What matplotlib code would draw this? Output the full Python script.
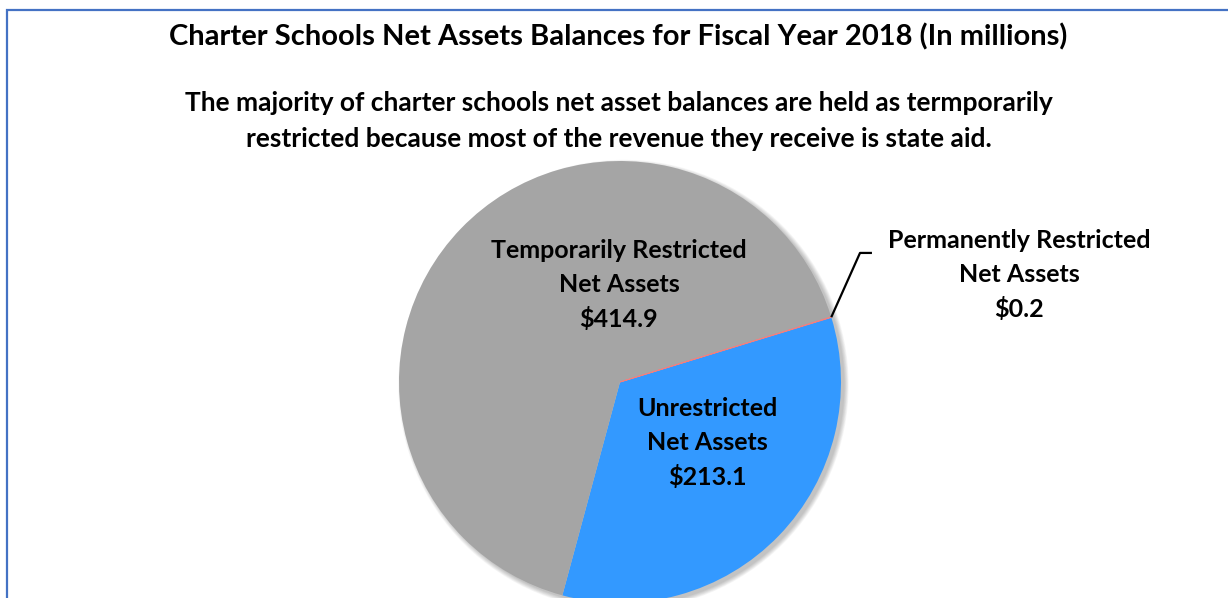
import numpy as np
import matplotlib
matplotlib.use("Agg")
import matplotlib.pyplot as plt
from matplotlib.patches import Circle, Rectangle

plt.rcParams['font.family'] = ['Lato', 'DejaVu Sans']

# Net asset balances, FY2018, in millions of dollars
categories = ["Unrestricted\nNet Assets",
              "Temporarily Restricted\nNet Assets",
              "Permanently Restricted\nNet Assets"]
values = [213.1, 414.9, 0.2]
colors = ["#3399FF", "#A5A5A5", "#F08080"]

title = "Charter Schools Net Assets Balances for Fiscal Year 2018 (In millions)"
subtitle = ("The majority of charter schools net asset balances are held as termporarily\n"
            "restricted because most of the revenue they receive is state aid.")

W, H = 1228, 598
fig = plt.figure(figsize=(W / 100, H / 100), dpi=100)
fig.patch.set_facecolor("white")

# chart-area frame
frame = Rectangle((6.5 / W, -0.1), 1.2, (H - 9.5) / H + 0.1, transform=fig.transFigure,
                  fill=False, edgecolor="#4472C4", linewidth=1.6)
fig.add_artist(frame)

fig.text(618 / W, 1 - 37 / H, title, ha="center", va="center",
         fontsize=21, fontweight="bold", color="black")
fig.text(619 / W, 1 - 121 / H, subtitle, ha="center", va="center",
         fontsize=19, fontweight="bold", color="black", linespacing=1.63)

# pie axes: centre (620, 382) px, radius 221 px
cx, cy, r = 620, 382, 221
ax = fig.add_axes([(cx - r) / W, (H - cy - r) / H, 2 * r / W, 2 * r / H])
ax.set_axis_off()

# soft drop shadow behind the pie, cast towards the lower right
px = 1.0 / r
for k in range(7):
    ax.add_patch(Circle((3.5 * px, -3.0 * px), 1 + k * px * 0.7,
                        facecolor="black", edgecolor="none",
                        alpha=0.035, zorder=0, clip_on=False))

start = 17.0
wedges, _ = ax.pie(values, colors=colors, startangle=start, counterclock=False,
                   radius=1, center=(0, 0), frame=False,
                   wedgeprops=dict(linewidth=0, edgecolor="none"))
for w in wedges:
    w.set_zorder(2)
    w.set_clip_on(False)
wedges[2].set_edgecolor(colors[2])
wedges[2].set_linewidth(0.7)

ax.set_xlim(-1, 1)
ax.set_ylim(-1, 1)
ax.set_aspect("auto")

label_pos = [(0.394, -0.276), (-0.005, 0.439), (1.805, 0.484)]
for name, val, (lx, ly) in zip(categories, values, label_pos):
    ax.text(lx, ly, f"{name}\n${val:.1f}", ha="center", va="center",
            fontsize=18, fontweight="bold", color="black",
            linespacing=1.57, zorder=5, clip_on=False)

# leader line from the thin permanently-restricted slice to its label
theta = np.deg2rad((wedges[2].theta1 + wedges[2].theta2) / 2)
x0, y0 = np.cos(theta), np.sin(theta)
ax.plot([x0, 1.086, 1.140], [y0, 0.584, 0.584], color="black",
        linewidth=1.6, zorder=4, clip_on=False, solid_capstyle="butt")

fig.savefig("out.png", dpi=100, facecolor="white")
